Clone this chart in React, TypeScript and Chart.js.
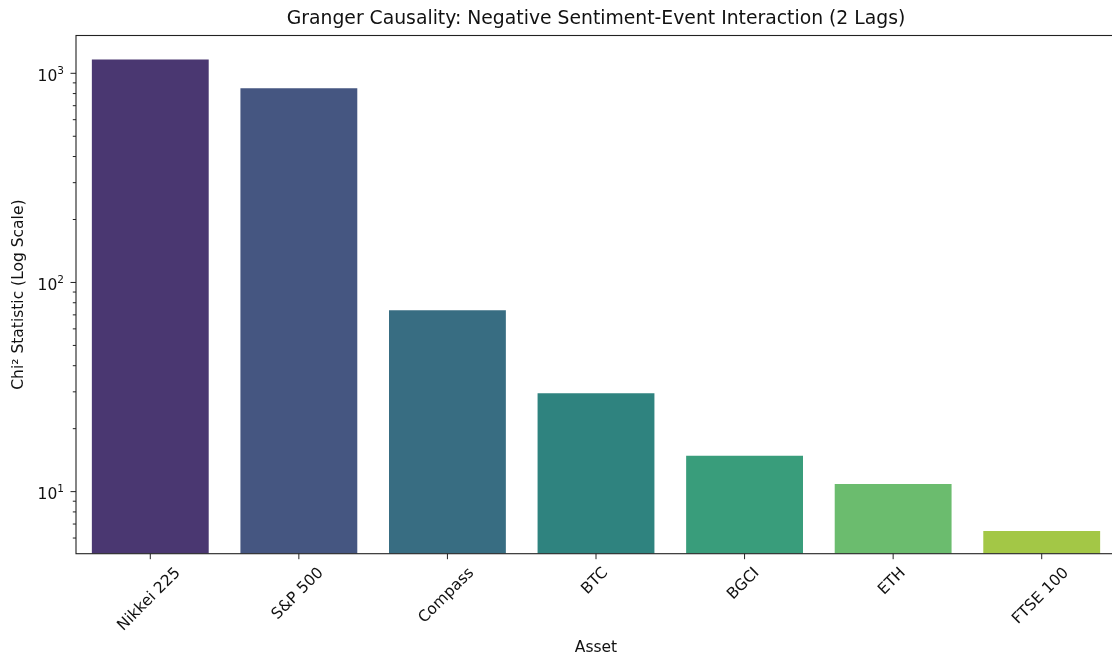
import React, { useEffect, useRef } from "react";
import { Chart, registerables } from "chart.js";

Chart.register(...registerables);

const chartTitle = "Granger Causality: Negative Sentiment-Event Interaction (2 Lags)";
const categories = ["Nikkei 225", "S&P 500", "Compass", "BTC", "BGCI", "ETH", "FTSE 100"];
const chiValues = [1177, 857, 74.5, 29.9, 15.0, 11.0, 6.56];
const barColors = ["#4a3771", "#455681", "#386d82", "#2f837f", "#399d7b", "#6bbc6e", "#a3c746"];
const yTickExponents = [1, 2, 3];
const yMin = 5.05;
const yMax = 1516;

const FONT = "DejaVu Sans";
const TEXT = "#111";
const TICK_SIZE = 15.5;

function isPower(v: number) {
  const l = Math.log10(v);
  return Math.abs(l - Math.round(l)) < 1e-9;
}

const axesPlugin = {
  id: "mplAxes",
  afterDraw(chart: any) {
    const { ctx, chartArea, scales } = chart;
    const { left, right, top, bottom } = chartArea;
    const x = scales.x;
    const y = scales.y;
    ctx.save();
    // title centred over the plot area
    ctx.fillStyle = TEXT;
    ctx.font = `18.8px "${FONT}"`;
    ctx.textAlign = "center";
    ctx.textBaseline = "middle";
    ctx.fillText(chartTitle, (left + right) / 2, 19);

    ctx.strokeStyle = "#222";
    ctx.lineWidth = 1.1;
    ctx.strokeRect(left, top, right - left, bottom - top);
    ctx.lineWidth = 1;
    // y ticks
    y.ticks.forEach((t: any) => {
      const py = y.getPixelForValue(t.value);
      const len = isPower(t.value) ? 5.5 : 3.2;
      ctx.beginPath();
      ctx.moveTo(left - len, py);
      ctx.lineTo(left, py);
      ctx.stroke();
    });
    // y tick labels (10^n, mathtext-like)
    ctx.textBaseline = "alphabetic";
    ctx.textAlign = "left";
    yTickExponents.forEach((e) => {
      const py = y.getPixelForValue(Math.pow(10, e));
      ctx.font = `${TICK_SIZE}px "${FONT}"`;
      const baseW = ctx.measureText("10").width;
      ctx.font = `10.5px "${FONT}"`;
      const sup = String(e);
      const supW = ctx.measureText(sup).width;
      const startX = left - 12 - (baseW + supW);
      ctx.font = `${TICK_SIZE}px "${FONT}"`;
      ctx.fillText("10", startX, py + 7.3);
      ctx.font = `10.5px "${FONT}"`;
      ctx.fillText(sup, startX + baseW, py + 0.8);
    });
    // x ticks & labels
    ctx.font = `${TICK_SIZE}px "${FONT}"`;
    categories.forEach((c, i) => {
      const px = x.getPixelForValue(i);
      ctx.beginPath();
      ctx.moveTo(px, bottom);
      ctx.lineTo(px, bottom + 5.5);
      ctx.stroke();
      const w = ctx.measureText(c).width;
      const cy = bottom + 10.5 + (w + 18) * 0.3536;
      ctx.save();
      ctx.translate(px - 1, cy);
      ctx.rotate(-Math.PI / 4);
      ctx.textAlign = "center";
      ctx.textBaseline = "middle";
      ctx.fillText(c, 0, 0);
      ctx.restore();
    });
    ctx.restore();
  },
};

export default function App() {
  const ref = useRef<HTMLCanvasElement>(null);
  useEffect(() => {
    document.body.style.margin = "0";
    const chart = new Chart(ref.current as HTMLCanvasElement, {
      type: "bar",
      data: {
        labels: categories,
        datasets: [
          {
            data: chiValues,
            backgroundColor: barColors,
            borderColor: "rgba(255,255,255,0.35)",
            borderWidth: 1,
            categoryPercentage: 1,
            barPercentage: 0.8,
          },
        ],
      },
      options: {
        responsive: false,
        animation: false,
        layout: { padding: { left: 0, right: 4, top: 35.5, bottom: 0 } },
        plugins: {
          legend: { display: false },
          tooltip: { enabled: false },
          title: { display: false },
        },
        scales: {
          x: {
            type: "category",
            offset: true,
            grid: { display: false, drawTicks: false },
            border: { display: false },
            ticks: { display: false },
            title: {
              display: true,
              text: "Asset",
              color: TEXT,
              font: { family: FONT, size: TICK_SIZE, lineHeight: 1.2 },
              padding: { top: 0, bottom: 0 },
            },
            afterFit: (s: any) => {
              s.height = 103.3;
            },
          },
          y: {
            type: "logarithmic",
            min: yMin,
            max: yMax,
            grid: { display: false, drawTicks: false },
            border: { display: false },
            afterBuildTicks: (s: any) => {
              const ticks: any[] = [];
              for (let k = -1; k <= 4; k++) {
                for (let m = 1; m <= 9; m++) {
                  const v = m * Math.pow(10, k);
                  if (v >= yMin && v <= yMax) ticks.push({ value: v, major: m === 1 });
                }
              }
              s.ticks = ticks;
            },
            ticks: { display: false, autoSkip: false },
            title: {
              display: true,
              text: "Chi² Statistic (Log Scale)",
              color: TEXT,
              font: { family: FONT, size: TICK_SIZE, lineHeight: 1.2 },
              padding: { top: 10, bottom: 0 },
            },
            afterFit: (s: any) => {
              s.width = 76;
            },
          },
        },
      },
      plugins: [axesPlugin],
    } as any);
    return () => chart.destroy();
  }, []);
  return (
    <div style={{ width: 1112, height: 657, overflow: "hidden", background: "#fff" }}>
      <canvas ref={ref} width={1120} height={657} style={{ width: 1120, height: 657, display: "block" }} />
    </div>
  );
}
